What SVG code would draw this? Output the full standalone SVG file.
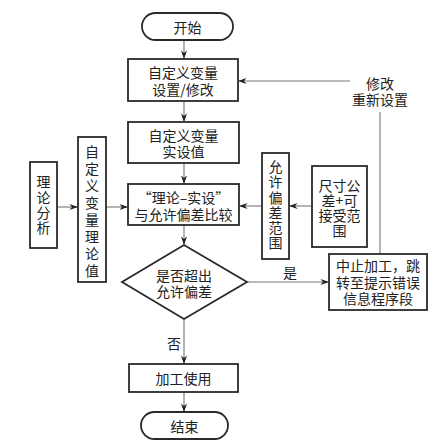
<svg xmlns="http://www.w3.org/2000/svg" width="433" height="447" viewBox="0 0 433 447">
<style>
.b{fill:#fff;stroke:#2a2a2a;stroke-width:1.8}
.c{fill:none;stroke:#777;stroke-width:1.1}
text{font-family:"Noto Sans CJK SC","Noto Sans",sans-serif;font-size:14px;fill:#222;text-anchor:middle;dominant-baseline:central}
.v{writing-mode:vertical-rl;glyph-orientation-vertical:0}
</style>
<defs>
<marker id="a" viewBox="0 0 10 7" refX="10" refY="3.5" markerWidth="9" markerHeight="6" markerUnits="userSpaceOnUse" orient="auto">
<path d="M0,0 L10,3.5 L0,7 L3,3.5 z" fill="#222"/>
</marker>
</defs>
<rect width="433" height="447" fill="#fff"/>
<g id="connectors">
<line class="c" x1="184" y1="40" x2="184" y2="59" marker-end="url(#a)"/>
<line class="c" x1="184" y1="101" x2="184" y2="122" marker-end="url(#a)"/>
<line class="c" x1="184" y1="163" x2="184" y2="184" marker-end="url(#a)"/>
<line class="c" x1="184" y1="225" x2="184" y2="245" marker-end="url(#a)"/>
<line class="c" x1="184" y1="319" x2="184" y2="364" marker-end="url(#a)"/>
<line class="c" x1="184" y1="392" x2="184" y2="412" marker-end="url(#a)"/>
<line class="c" x1="57" y1="207" x2="78" y2="207" marker-end="url(#a)"/>
<line class="c" x1="106" y1="207" x2="128" y2="207" marker-end="url(#a)"/>
<line class="c" x1="312" y1="206" x2="289" y2="206" marker-end="url(#a)"/>
<line class="c" x1="262" y1="206" x2="239" y2="206" marker-end="url(#a)"/>
<line class="c" x1="247" y1="282" x2="329" y2="282" marker-end="url(#a)"/>
<line class="c" x1="380" y1="254" x2="380" y2="112"/>
<line class="c" x1="350" y1="81" x2="238" y2="81" marker-end="url(#a)"/>
<text x="290" y="272">是</text>
<text x="174" y="343">否</text>
<text x="380" y="83">修改<tspan x="380" dy="16">重新设置</tspan></text>
</g>
<g id="start"><rect class="b" x="142" y="13" width="91" height="27" rx="13.5"/><text x="187.5" y="26.5">开始</text></g>
<g id="set"><rect class="b" x="128" y="59" width="110" height="42"/><text x="183" y="72">自定义变量<tspan x="183" dy="17">设置/修改</tspan></text></g>
<g id="actual"><rect class="b" x="128" y="122" width="111" height="41"/><text x="183.5" y="135">自定义变量<tspan x="183.5" dy="16">实设值</tspan></text></g>
<g id="compare"><rect class="b" x="128" y="184" width="111" height="41"/><text x="183.5" y="197">“理论–实设”<tspan x="183.5" dy="17">与允许偏差比较</tspan></text></g>
<g id="theory"><rect class="b" x="30" y="162" width="27" height="86"/>
<text class="v" x="43.5" y="205.5" letter-spacing="1.3">理论分析</text></g>
<g id="theoryval"><rect class="b" x="78" y="137" width="28" height="145"/>
<text class="v" x="92" y="213" letter-spacing="3">自定义变量理论值</text></g>
<g id="tolerance"><rect class="b" x="262" y="153" width="27" height="106"/>
<text class="v" x="275.5" y="205.5" letter-spacing="1.2">允许偏差范围</text></g>
<g id="size"><rect class="b" x="312" y="166" width="55" height="81"/>
<text x="339.5" y="185">尺寸公<tspan x="339.5" dy="15">差+可</tspan><tspan x="339.5" dy="15">接受范</tspan><tspan x="339.5" dy="15">围</tspan></text></g>
<g id="decision"><path class="b" d="M184,245 L247,282 L184,319 L122,282 Z"/><text x="184" y="275">是否超出<tspan x="184" dy="16">允许偏差</tspan></text></g>
<g id="abort"><rect class="b" x="329" y="254" width="98" height="56"/>
<text x="378" y="265">中止加工，跳<tspan x="378" dy="17">转至提示错误</tspan><tspan x="378" dy="16">信息程序段</tspan></text></g>
<g id="use"><rect class="b" x="129" y="364" width="109" height="28"/><text x="183.5" y="378">加工使用</text></g>
<g id="end"><rect class="b" x="141" y="412" width="87" height="27" rx="13.5"/><text x="184.5" y="425.5">结束</text></g>
</svg>
